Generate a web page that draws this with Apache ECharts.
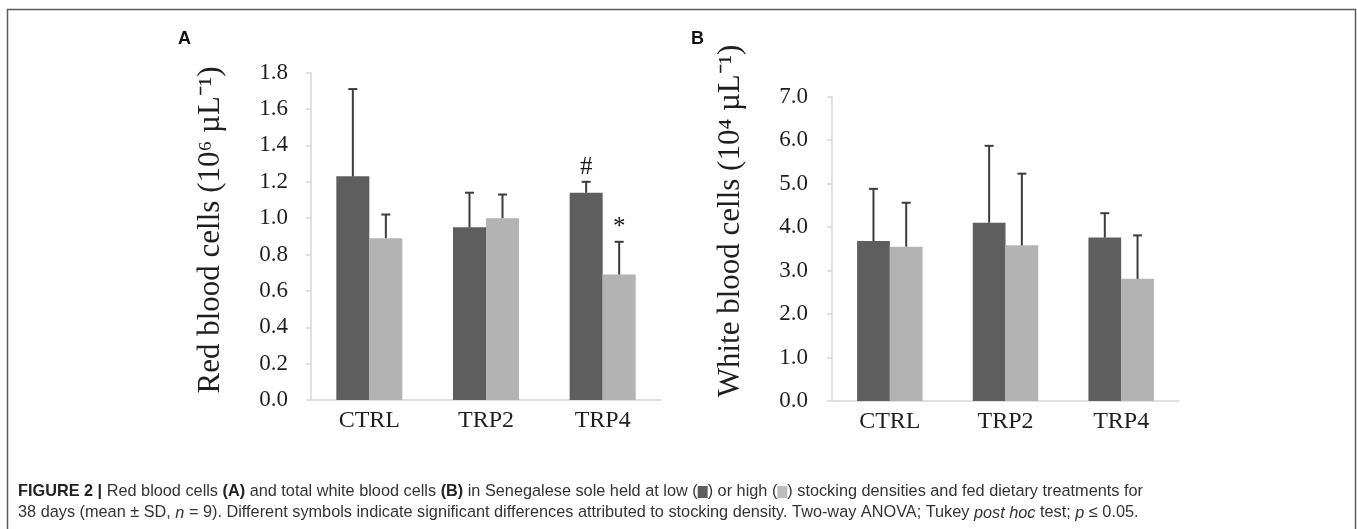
<!DOCTYPE html>
<html>
<head>
<meta charset="utf-8">
<script src="https://cdn.jsdelivr.net/npm/echarts@6/dist/echarts.min.js"></script>
<style>
html,body{margin:0;padding:0;background:#fff;}
#chart{width:1357px;height:529px;}
</style>
</head>
<body>
<div id="chart"></div>
<script>
// ---- data ----
const categories = ['CTRL', 'TRP2', 'TRP4'];

// Panel A: red blood cells (10^6 µL^-1)
const rbcLow = [1.23, 0.95, 1.14];
const rbcLowSD = [0.48, 0.19, 0.06];
const rbcHigh = [0.89, 1.00, 0.69];
const rbcHighSD = [0.13, 0.13, 0.18];
const rbcLowSig = ['', '', '#'];
const rbcHighSig = ['', '', '*'];
const rbcTicks = { min: 0, max: 1.8, interval: 0.2 };

// Panel B: white blood cells (10^4 µL^-1)
const wbcLow = [3.68, 4.10, 3.76];
const wbcLowSD = [1.20, 1.77, 0.56];
const wbcHigh = [3.55, 3.58, 2.81];
const wbcHighSD = [1.01, 1.65, 1.00];
const wbcLowSig = ['', '', ''];
const wbcHighSig = ['', '', ''];
const wbcTicks = { min: 0, max: 7, interval: 1 };

const titleA = 'Red blood cells (10\u2076 \u00B5L\u207B\u00B9)';
const titleB = 'White blood cells (10\u2074 \u00B5L\u207B\u00B9)';

const captionLine1 = '{b|FIGURE 2 |} Red blood cells {b|(A)} and total white blood cells {b|(B)} in Senegalese sole held at low ({dk| }) or high ({lt| }) stocking densities and fed dietary treatments for';
const captionLine2 = '38 days (mean \u00B1 SD, {i|n} = 9). Different symbols indicate significant differences attributed to stocking density. Two-way ANOVA; Tukey {i|post hoc} test; {i|p} \u2264 0.05.';

// ---- styles ----
const DARK = '#5e5e5e';
const LIGHT = '#b3b3b3';
const ERR = '#3c3c3c';
const AXIS = '#d6d6d6';
const SERIF = '"Liberation Serif", "Times New Roman", serif';
const SANS = '"Liberation Sans", Arial, sans-serif';
const CAP = 16.3;
const BAR_FRAC = 0.283;

function errSeries(gridIdx, side, means, sds, sigs) {
  return {
    type: 'custom',
    xAxisIndex: gridIdx,
    yAxisIndex: gridIdx,
    z: 5,
    silent: true,
    data: categories.map((c, i) => [i, means[i], sds[i]]),
    renderItem: function (params, api) {
      const i = api.value(0);
      const m = api.value(1);
      const sd = api.value(2);
      const base = api.coord([i, m]);
      const top = api.coord([i, m + sd]);
      const band = api.size([1, 0])[0];
      const bw = band * BAR_FRAC;
      const x = base[0] + side * bw / 2;
      const children = [
        { type: 'line', shape: { x1: x, y1: base[1], x2: x, y2: top[1] }, style: { stroke: ERR, lineWidth: 2 } },
        { type: 'line', shape: { x1: x - 4.5, y1: top[1], x2: x + 4.5, y2: top[1] }, style: { stroke: ERR, lineWidth: 2 } }
      ];
      const s = sigs[params.dataIndex];
      if (s) {
        children.push({
          type: 'text',
          x: x,
          y: top[1] - 2,
          style: { text: s, font: '25px ' + SERIF, fill: '#1a1a1a', textAlign: 'center', textVerticalAlign: 'bottom' }
        });
      }
      return { type: 'group', children: children };
    }
  };
}

function barSeries(gridIdx, name, vals, color) {
  return {
    type: 'bar',
    name: name,
    xAxisIndex: gridIdx,
    yAxisIndex: gridIdx,
    data: vals,
    barWidth: (BAR_FRAC * 100) + '%',
    barGap: '0%',
    itemStyle: { color: color },
    silent: true
  };
}

function xAxis(gridIdx) {
  return {
    type: 'category',
    gridIndex: gridIdx,
    data: categories,
    axisLine: { lineStyle: { color: AXIS, width: 1.5 } },
    axisTick: { show: false },
    axisLabel: { fontFamily: SERIF, fontSize: 24, color: '#1f1f1f', margin: 9 }
  };
}

function yAxis(gridIdx, t, margin) {
  return {
    type: 'value',
    gridIndex: gridIdx,
    min: t.min, max: t.max, interval: t.interval,
    splitLine: { show: false },
    axisLine: { show: true, lineStyle: { color: AXIS, width: 1.5 } },
    axisTick: { show: true, length: 5, lineStyle: { color: AXIS, width: 1.5 } },
    axisLabel: {
      fontFamily: SERIF, fontSize: 23, color: '#1f1f1f', margin: margin,
      formatter: v => v.toFixed(1)
    }
  };
}

const chart = echarts.init(document.getElementById('chart'), null, { renderer: 'canvas' });
chart.setOption({
  animation: false,
  backgroundColor: '#fff',
  grid: [
    { left: 311, top: 72.7, width: 350, height: 327.3 },
    { left: 832, top: 96.7, width: 347, height: 304.3 }
  ],
  xAxis: [xAxis(0), xAxis(1)],
  yAxis: [yAxis(0, rbcTicks, 23), yAxis(1, wbcTicks, 24)],
  series: [
    barSeries(0, 'Low density', rbcLow, DARK),
    barSeries(0, 'High density', rbcHigh, LIGHT),
    errSeries(0, -1, rbcLow, rbcLowSD, rbcLowSig),
    errSeries(0, 1, rbcHigh, rbcHighSD, rbcHighSig),
    barSeries(1, 'Low density', wbcLow, DARK),
    barSeries(1, 'High density', wbcHigh, LIGHT),
    errSeries(1, -1, wbcLow, wbcLowSD, wbcLowSig),
    errSeries(1, 1, wbcHigh, wbcHighSD, wbcHighSig)
  ],
  graphic: [
    { type: 'rect', shape: { x: 7.5, y: 9.5, width: 1348, height: 560 }, style: { fill: 'none', stroke: '#5a5a5a', lineWidth: 1.5 }, silent: true },
    { type: 'text', x: 178, y: 30, style: { text: 'A', font: 'bold 18px ' + SANS, fill: '#111', textVerticalAlign: 'top' } },
    { type: 'text', x: 691, y: 30, style: { text: 'B', font: 'bold 18px ' + SANS, fill: '#111', textVerticalAlign: 'top' } },
    { type: 'text', x: 211, y: 230, rotation: Math.PI / 2,
      style: { text: titleA, font: '31px ' + SERIF, fill: '#1f1f1f', textAlign: 'center', textVerticalAlign: 'middle' } },
    { type: 'text', x: 731, y: 221, rotation: Math.PI / 2,
      style: { text: titleB, font: '31px ' + SERIF, fill: '#1f1f1f', textAlign: 'center', textVerticalAlign: 'middle' } },
    { type: 'text', x: 18, y: 492,
      style: {
        text: captionLine1, font: CAP + 'px ' + SANS, fill: '#333', textVerticalAlign: 'middle',
        rich: {
          b: { fontWeight: 'bold', fontSize: CAP, fontFamily: SANS, fill: '#222' },
          dk: { backgroundColor: '#5e5e5e', width: 10, height: 12, fontSize: CAP },
          lt: { backgroundColor: '#bdbdbd', width: 10, height: 12, fontSize: CAP }
        }
      } },
    { type: 'text', x: 18, y: 513,
      style: {
        text: captionLine2, font: CAP + 'px ' + SANS, fill: '#333', textVerticalAlign: 'middle',
        rich: {
          i: { fontStyle: 'italic', fontSize: CAP, fontFamily: SANS, fill: '#333' }
        }
      } }
  ]
});
</script>
</body>
</html>
